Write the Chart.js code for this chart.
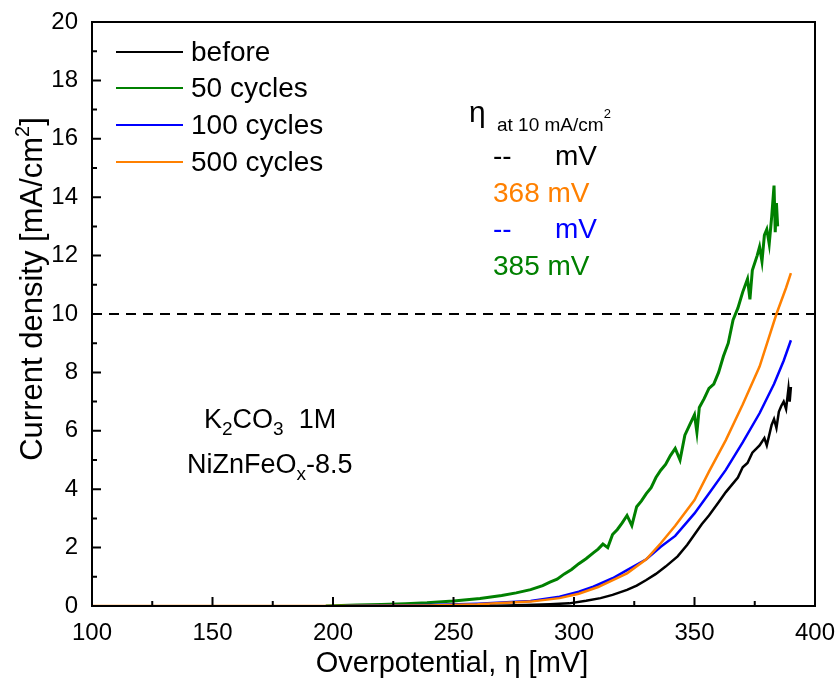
<!DOCTYPE html>
<html>
<head>
<meta charset="utf-8">
<title>Overpotential polarization curves</title>
<script src="https://cdn.jsdelivr.net/npm/chart.js@4.4.1/dist/chart.umd.min.js"></script>
<style>
  html, body { margin: 0; padding: 0; background: #fff; }
  canvas { display: block; }
</style>
</head>
<body>
<canvas id="lsv-chart" width="835" height="682"></canvas>
<script>
// overpotential (mV) and current density (mA/cm2) for each run
const beforeX = [265, 280, 290, 298, 305, 311, 316, 322, 326, 330, 334, 338, 343, 347, 350, 353, 356, 360, 363, 366, 368, 370, 372, 374, 377, 379, 380, 382, 383, 384, 385, 386, 387, 388, 389, 389.5, 390];
const beforeY = [0, 0.03, 0.06, 0.09, 0.18, 0.27, 0.38, 0.55, 0.7, 0.89, 1.1, 1.35, 1.7, 2.1, 2.45, 2.8, 3.1, 3.55, 3.9, 4.2, 4.4, 4.75, 4.9, 5.25, 5.5, 5.75, 5.5, 6.2, 6.4, 6.1, 6.65, 6.85, 7.0, 6.75, 7.45, 7.0, 7.5];

const cyc50X = [197, 210, 220, 230, 239, 250, 261, 270, 276, 282, 287, 290, 293, 296, 299, 302, 305, 308, 310, 312, 314, 316, 318, 320, 322, 324, 326, 328, 330, 332, 334, 336, 338, 340, 342, 344, 346, 348, 350, 351, 352, 354, 356, 358, 360, 362, 364, 366, 368, 370, 372, 373, 374, 376, 377, 378, 379, 380, 381, 382, 383, 383.5, 384, 384.5];
const cyc50Y = [0, 0.03, 0.05, 0.08, 0.11, 0.17, 0.26, 0.36, 0.45, 0.56, 0.7, 0.82, 0.92, 1.1, 1.25, 1.45, 1.62, 1.82, 1.95, 2.12, 2.0, 2.45, 2.62, 2.85, 3.1, 2.75, 3.4, 3.6, 3.85, 4.05, 4.4, 4.65, 4.85, 5.15, 5.4, 5.0, 5.85, 6.2, 6.55, 5.95, 6.8, 7.1, 7.45, 7.6, 8.0, 8.55, 9.0, 9.8, 10.2, 10.75, 11.2, 10.5, 11.5, 12.0, 12.3, 11.8, 12.7, 12.9, 12.4, 13.3, 14.4, 12.8, 13.8, 13.0];

const cyc100X = [205, 240, 260, 282, 294, 302, 308, 316, 322, 330, 336, 342, 350, 356, 363, 370, 377, 383, 387, 390];
const cyc100Y = [0, 0.03, 0.08, 0.17, 0.32, 0.49, 0.66, 0.95, 1.23, 1.6, 2.03, 2.4, 3.17, 3.85, 4.66, 5.6, 6.6, 7.6, 8.4, 9.1];

const cyc500X = [100, 200, 240, 260, 282, 294, 302, 310, 322, 330, 336, 342, 350, 356, 363, 370, 377, 384, 388, 390];
const cyc500Y = [0, 0, 0.02, 0.06, 0.15, 0.27, 0.42, 0.65, 1.12, 1.6, 2.15, 2.75, 3.63, 4.6, 5.68, 6.9, 8.2, 10.0, 10.9, 11.4];

// 10 mA/cm2 reference level
const refX = [100, 400];
const refY = [10, 10];

const xTicks = [100, 150, 200, 250, 300, 350, 400];
const yTicks = [0, 2, 4, 6, 8, 10, 12, 14, 16, 18, 20];

const seriesNames = ['before', '50 cycles', '100 cycles', '500 cycles'];
const seriesColors = ['#000000', '#008000', '#0000ff', '#ff8000'];

const FONT = "'Liberation Sans', Arial, sans-serif";

function toPoints(xs, ys) {
  return xs.map((x, i) => ({ x: x, y: ys[i] }));
}

function line(label, xs, ys, color, extra) {
  return Object.assign({
    label: label,
    data: toPoints(xs, ys),
    borderColor: color,
    backgroundColor: color,
    borderWidth: 2.5,
    pointRadius: 0,
    tension: 0,
    fill: false
  }, extra || {});
}

// draws text made of runs, each with its own size and vertical shift
function drawRuns(ctx, x, y, runs, color) {
  ctx.fillStyle = color;
  ctx.textBaseline = 'alphabetic';
  ctx.textAlign = 'left';
  runs.forEach(r => {
    ctx.font = r.size + 'px ' + FONT;
    ctx.fillText(r.t, x, y + (r.dy || 0));
    x += ctx.measureText(r.t).width;
  });
}

// keep tick labels from pushing the plot area inwards
function noLabelPadding(s) {
  s.paddingTop = 0;
  s.paddingBottom = 0;
  s.paddingLeft = 0;
  s.paddingRight = 0;
}

const framePlugin = {
  id: 'frame',
  afterDatasetsDraw(chart) {
    const ctx = chart.ctx;
    const area = chart.chartArea;
    const xs = chart.scales.x;
    const ys = chart.scales.y;
    ctx.save();
    ctx.strokeStyle = '#000';
    ctx.lineWidth = 2;
    ctx.strokeRect(area.left, area.top, area.right - area.left, area.bottom - area.top);

    // inward ticks on the left and bottom axes
    ctx.beginPath();
    for (let v = 0; v <= 20; v += 1) {
      const py = ys.getPixelForValue(v);
      const len = v % 2 === 0 ? 9 : 5;
      ctx.moveTo(area.left, py);
      ctx.lineTo(area.left + len, py);
    }
    for (let v = 100; v <= 400; v += 25) {
      const px = xs.getPixelForValue(v);
      const len = v % 50 === 0 ? 9 : 5;
      ctx.moveTo(px, area.bottom);
      ctx.lineTo(px, area.bottom - len);
    }
    ctx.stroke();

    // legend
    const rows = [52, 88, 125, 162];
    rows.forEach((ry, i) => {
      ctx.strokeStyle = seriesColors[i];
      ctx.lineWidth = 2;
      ctx.beginPath();
      ctx.moveTo(116, ry);
      ctx.lineTo(183, ry);
      ctx.stroke();
      ctx.fillStyle = '#000';
      ctx.font = '28px ' + FONT;
      ctx.textBaseline = 'middle';
      ctx.fillText(seriesNames[i], 191, ry + 1);
    });

    // overpotential at 10 mA/cm2
    drawRuns(ctx, 469, 122, [{ t: 'η', size: 30 }], '#000');
    drawRuns(ctx, 497, 131, [{ t: 'at 10 mA/cm', size: 19 }, { t: '2', size: 13, dy: -13 }], '#000');
    drawRuns(ctx, 493, 165, [{ t: '--', size: 28 }], '#000');
    drawRuns(ctx, 555, 165, [{ t: 'mV', size: 28 }], '#000');
    drawRuns(ctx, 493, 202, [{ t: '368 mV', size: 28 }], seriesColors[3]);
    drawRuns(ctx, 493, 238, [{ t: '--', size: 28 }], seriesColors[2]);
    drawRuns(ctx, 555, 238, [{ t: 'mV', size: 28 }], seriesColors[2]);
    drawRuns(ctx, 493, 275, [{ t: '385 mV', size: 28 }], seriesColors[1]);

    // electrolyte and sample
    drawRuns(ctx, 204, 428, [
      { t: 'K', size: 27 }, { t: '2', size: 19, dy: 7 }, { t: 'CO', size: 27 },
      { t: '3', size: 19, dy: 7 }, { t: '  1M', size: 27 }
    ], '#000');
    drawRuns(ctx, 187, 473, [
      { t: 'NiZnFeO', size: 27 }, { t: 'x', size: 19, dy: 7 }, { t: '-8.5', size: 27 }
    ], '#000');

    // axis titles
    ctx.fillStyle = '#000';
    ctx.font = '29px ' + FONT;
    ctx.textAlign = 'center';
    ctx.textBaseline = 'middle';
    ctx.fillText('Overpotential, η [mV]', 452, 664);

    ctx.save();
    ctx.translate(31, 289);
    ctx.rotate(-Math.PI / 2);
    const main = 'Current density [mA/cm';
    ctx.font = '20px ' + FONT;
    const supW = ctx.measureText('2').width;
    ctx.font = '31px ' + FONT;
    const mainW = ctx.measureText(main).width;
    const closeW = ctx.measureText(']').width;
    let sx = -(mainW + supW + closeW) / 2;
    ctx.textAlign = 'left';
    ctx.textBaseline = 'alphabetic';
    ctx.fillText(main, sx, 11);
    sx += mainW;
    ctx.font = '20px ' + FONT;
    ctx.fillText('2', sx, -2);
    sx += supW;
    ctx.font = '31px ' + FONT;
    ctx.fillText(']', sx, 11);
    ctx.restore();

    ctx.restore();
  }
};

const ctx = document.getElementById('lsv-chart').getContext('2d');
new Chart(ctx, {
  type: 'line',
  data: {
    datasets: [
      line('before', beforeX, beforeY, seriesColors[0]),
      line('500 cycles', cyc500X, cyc500Y, seriesColors[3]),
      line('100 cycles', cyc100X, cyc100Y, seriesColors[2]),
      line('50 cycles', cyc50X, cyc50Y, seriesColors[1], { borderWidth: 3 }),
      line('10 mA/cm2', refX, refY, '#000', { borderWidth: 2, borderDash: [10, 7] })
    ]
  },
  options: {
    responsive: false,
    animation: false,
    devicePixelRatio: 1,
    layout: { autoPadding: false, padding: { top: 22, right: 20, left: 0, bottom: 0 } },
    plugins: { legend: { display: false }, tooltip: { enabled: false } },
    scales: {
      x: {
        type: 'linear',
        min: 100,
        max: 400,
        afterFit: s => { s.height = 76; noLabelPadding(s); },
        afterBuildTicks: s => { s.ticks = xTicks.map(v => ({ value: v })); },
        grid: { display: false, drawTicks: false },
        border: { display: false },
        ticks: { color: '#000', padding: 13, maxRotation: 0, font: { family: FONT, size: 24 } }
      },
      y: {
        type: 'linear',
        min: 0,
        max: 20,
        afterFit: s => { s.width = 92; noLabelPadding(s); },
        afterBuildTicks: s => { s.ticks = yTicks.map(v => ({ value: v })); },
        grid: { display: false, drawTicks: false },
        border: { display: false },
        ticks: { color: '#000', padding: 14, font: { family: FONT, size: 24 } }
      }
    }
  },
  plugins: [framePlugin]
});
</script>
</body>
</html>
